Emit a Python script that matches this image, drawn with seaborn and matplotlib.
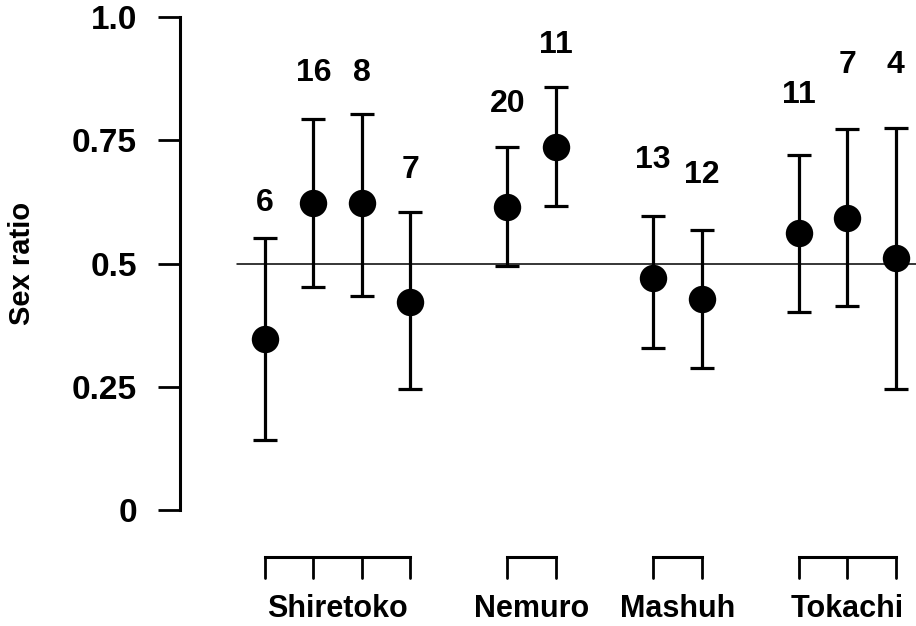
import numpy as np
import pandas as pd
import matplotlib
matplotlib.use('Agg')
import matplotlib.pyplot as plt
import seaborn as sns

# sex ratio per sampling site, with asymmetric confidence limits
regions = ['Shiretoko', 'Nemuro', 'Mashuh', 'Tokachi']
region_of_point = ['Shiretoko'] * 4 + ['Nemuro'] * 2 + ['Mashuh'] * 2 + ['Tokachi'] * 3
ratio = [0.348, 0.622, 0.622, 0.422, 0.615, 0.736, 0.470, 0.428, 0.561, 0.593, 0.512]
upper = [0.552, 0.794, 0.804, 0.605, 0.736, 0.857, 0.597, 0.569, 0.721, 0.772, 0.774]
lower = [0.143, 0.453, 0.434, 0.245, 0.495, 0.617, 0.328, 0.289, 0.401, 0.414, 0.245]
sample_n = [6, 16, 8, 7, 20, 11, 13, 12, 11, 7, 4]

# layout: slot index of each point (one empty slot between regions), label heights
slot = [0, 1, 2, 3, 5, 6, 8, 9, 11, 12, 13]
label_y = [0.622, 0.886, 0.886, 0.689, 0.824, 0.943, 0.709, 0.679, 0.841, 0.902, 0.902]

df = pd.DataFrame({'slot': slot, 'ratio': ratio, 'upper': upper, 'lower': lower,
                   'n': sample_n, 'region': region_of_point})

sns.set_theme(style='white')
plt.rcParams['font.family'] = ['Liberation Sans', 'DejaVu Sans']
plt.rcParams['font.weight'] = 'bold'
plt.rcParams['text.color'] = 'black'
plt.rcParams['axes.labelcolor'] = 'black'

fig = plt.figure(figsize=(9.16, 6.26), dpi=100)
ax = fig.add_axes([0.1965, 0.185, 0.8035, 0.788])

ax.plot([-0.58, 13.5], [0.5, 0.5], color='black', linewidth=1.1, zorder=1)

yerr = np.array([df['ratio'] - df['lower'], df['upper'] - df['ratio']])
ax.errorbar(df['slot'], df['ratio'], yerr=yerr, fmt='none', ecolor='black',
            elinewidth=2.3, capsize=8.5, capthick=2.3, zorder=2)
sns.scatterplot(data=df, x='slot', y='ratio', color='black', s=390,
                edgecolor='black', linewidth=0, legend=False, ax=ax, zorder=3)

for x, y, n in zip(df['slot'], label_y, df['n']):
    ax.text(x, y, str(n), ha='center', va='center', fontsize=23,
            fontweight='bold', color='black')

# region brackets under the axis
for reg in regions:
    xs = df.loc[df['region'] == reg, 'slot'].tolist()
    ax.plot([xs[0], xs[-1]], [-0.095, -0.095], color='black', linewidth=2.2,
            clip_on=False, solid_capstyle='projecting')
    for x in xs:
        ax.plot([x, x], [-0.095, -0.138], color='black', linewidth=2.0, clip_on=False)
    ax.text(np.mean([xs[0], xs[-1]]), -0.201, reg, ha='center', va='center',
            fontsize=22, fontweight='bold', color='black')

ax.set_xlim(-1.75, 13.42)
ax.set_ylim(0, 1)
ax.set_xticks([])
ax.set_yticks([0, 0.25, 0.5, 0.75, 1.0])
ax.set_yticklabels(['0', '0.25', '0.5', '0.75', '1.0'], fontsize=24, fontweight='bold')
ax.tick_params(axis='y', direction='out', length=16, width=2, pad=15, left=True,
               colors='black', labelcolor='black')
ax.set_ylabel('Sex ratio', fontsize=21, fontweight='bold', color='black')
ax.yaxis.set_label_coords(-0.2147, 0.5)
ax.yaxis.label.set_va('center')
ax.set_xlabel('')

for side in ['top', 'right', 'bottom']:
    ax.spines[side].set_visible(False)
ax.spines['left'].set_linewidth(2.2)
ax.spines['left'].set_color('black')

fig.savefig('out.png', dpi=100, facecolor='white')
